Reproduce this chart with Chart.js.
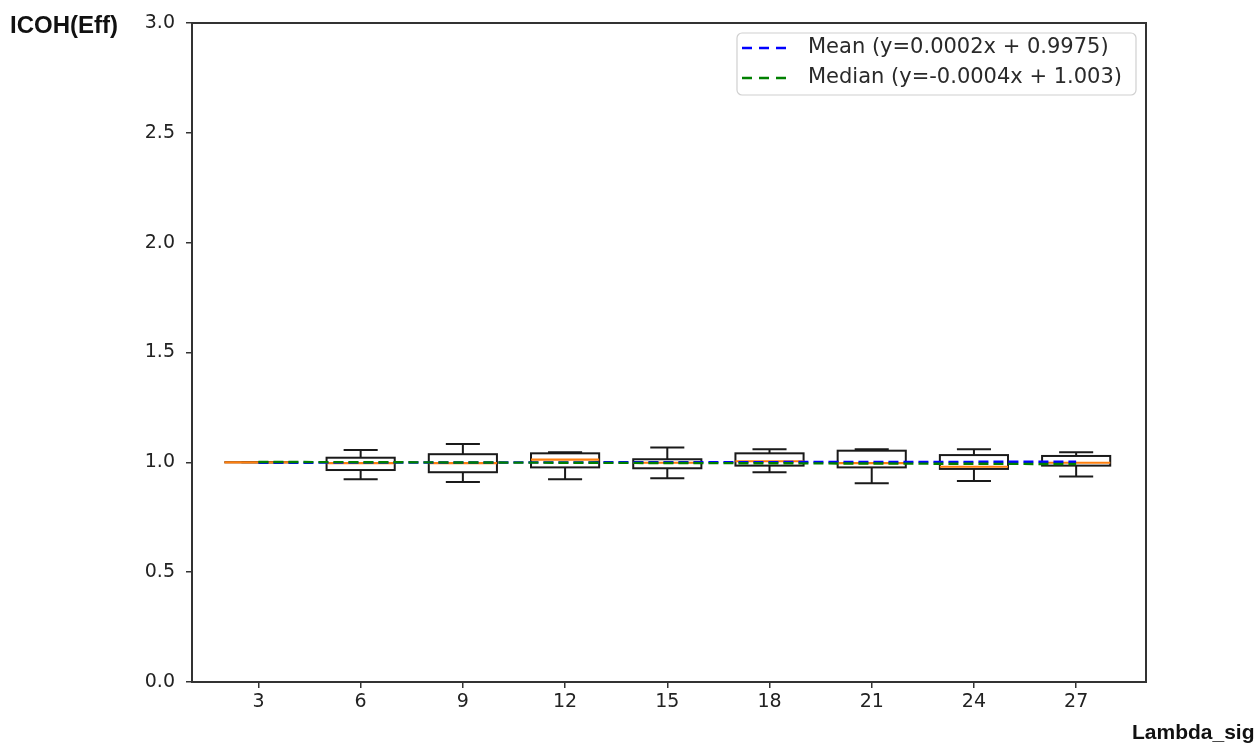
<!DOCTYPE html>
<html>
<head>
<meta charset="utf-8">
<script src="https://cdn.jsdelivr.net/npm/chart.js@4.4.1/dist/chart.umd.min.js"></script>
<style>
    body { margin: 0; background: #fff; }
    #wrap { position: relative; width: 1258px; height: 747px; }
    .axis-title { position: absolute; font-family: "Liberation Sans", Arial, sans-serif; font-weight: bold; color: #111; white-space: nowrap; }
</style>
</head>
<body>
<div id="wrap">
    <canvas id="chart"></canvas>
    <div class="axis-title" style="left:10px; top:11px; font-size:24px;">ICOH(Eff)</div>
    <div class="axis-title" style="left:1132px; top:720px; font-size:21px;">Lambda_sig</div>
</div>
<script>
// ================= Box plot data =================
const lambdas = [3, 6, 9, 12, 15, 18, 21, 24, 27];
const whiskerLow = [1.0, 0.923, 0.910, 0.923, 0.927, 0.955, 0.905, 0.915, 0.935];
const q1 = [1.0, 0.965, 0.955, 0.977, 0.973, 0.985, 0.977, 0.970, 0.985];
const medians = [1.0, 0.996, 0.996, 1.012, 0.998, 1.005, 0.996, 0.980, 0.998];
const q3 = [1.0, 1.021, 1.037, 1.041, 1.014, 1.041, 1.053, 1.033, 1.029];
const whiskerHigh = [1.0, 1.056, 1.083, 1.046, 1.067, 1.059, 1.059, 1.059, 1.046];

// trend lines, end points at lambda 3 and 27
const trendX = [3, 27];
const meanTrend = [0.9981, 1.0029];
const medianTrend = [1.0018, 0.9922];

const yTicks = [0, 0.5, 1.0, 1.5, 2.0, 2.5, 3.0];
const legendLabels = ['Mean (y=0.0002x + 0.9975)', 'Median (y=-0.0004x + 1.003)'];

const BOX_HALF = 1.0;   // in lambda units
const CAP_HALF = 0.5;

// Box plot drawn through the chart scales
const boxPlugin = {
    id: 'boxes',
    beforeDatasetsDraw(chart) {
        const { ctx, scales: { x, y } } = chart;
        ctx.save();
        lambdas.forEach((l, i) => {
            const xc = x.getPixelForValue(l);
            const left = x.getPixelForValue(l - BOX_HALF);
            const right = x.getPixelForValue(l + BOX_HALF);
            const capL = x.getPixelForValue(l - CAP_HALF);
            const capR = x.getPixelForValue(l + CAP_HALF);
            const yLo = y.getPixelForValue(whiskerLow[i]);
            const yQ1 = y.getPixelForValue(q1[i]);
            const yMed = y.getPixelForValue(medians[i]);
            const yQ3 = y.getPixelForValue(q3[i]);
            const yHi = y.getPixelForValue(whiskerHigh[i]);

            ctx.strokeStyle = '#1a1a1a';
            ctx.lineWidth = 2;
            ctx.beginPath();
            // whiskers
            ctx.moveTo(xc, yQ1); ctx.lineTo(xc, yLo);
            ctx.moveTo(xc, yQ3); ctx.lineTo(xc, yHi);
            // caps
            ctx.moveTo(capL, yLo); ctx.lineTo(capR, yLo);
            ctx.moveTo(capL, yHi); ctx.lineTo(capR, yHi);
            ctx.stroke();
            ctx.strokeRect(left, yQ3, right - left, yQ1 - yQ3);

            // median
            ctx.strokeStyle = '#ff7f0e';
            ctx.lineWidth = 2.2;
            ctx.beginPath();
            ctx.moveTo(left, yMed); ctx.lineTo(right, yMed);
            ctx.stroke();
        });
        ctx.restore();
    },
    afterDraw(chart) {
        const { ctx, chartArea: a } = chart;
        ctx.save();
        // spines
        ctx.strokeStyle = '#333';
        ctx.lineWidth = 2;
        ctx.strokeRect(a.left, a.top, a.right - a.left, a.bottom - a.top);

        // legend
        const lx = 737, ly = 33, lw = 399, lh = 62;
        ctx.fillStyle = 'rgba(255,255,255,0.85)';
        ctx.strokeStyle = '#d0d0d0';
        ctx.lineWidth = 1.2;
        ctx.beginPath();
        ctx.roundRect(lx, ly, lw, lh, 5);
        ctx.fill();
        ctx.stroke();
        ctx.font = '21px "DejaVu Sans"';
        ctx.textBaseline = 'middle';
        [0, 1].forEach(i => {
            const ds = chart.data.datasets[i];
            const yy = ly + 15 + i * 30;
            ctx.strokeStyle = ds.borderColor;
            ctx.lineWidth = 2.4;
            ctx.setLineDash([10, 7]);
            ctx.beginPath();
            ctx.moveTo(742, yy); ctx.lineTo(793, yy);
            ctx.stroke();
            ctx.setLineDash([]);
            ctx.fillStyle = '#2a2a2a';
            ctx.fillText(legendLabels[i], 808, yy);
        });
        ctx.restore();
    }
};

new Chart(document.getElementById('chart'), {
    type: 'scatter',
    data: {
        datasets: [
            {
                label: legendLabels[0],
                data: trendX.map((v, i) => ({ x: v, y: meanTrend[i] })),
                showLine: true,
                borderColor: '#0000ff',
                borderWidth: 2.4,
                borderDash: [10, 5],
                pointRadius: 0,
                order: 1
            },
            {
                label: legendLabels[1],
                data: trendX.map((v, i) => ({ x: v, y: medianTrend[i] })),
                showLine: true,
                borderColor: '#008000',
                borderWidth: 2.4,
                borderDash: [10, 5],
                pointRadius: 0,
                order: 0
            }
        ]
    },
    options: {
        responsive: true,
        maintainAspectRatio: false,
        animation: false,
        layout: { padding: { left: 0, top: 23, right: 112, bottom: 0 } },
        plugins: { legend: { display: false }, tooltip: { enabled: false } },
        scales: {
            x: {
                type: 'linear',
                min: 1.05,
                max: 29.05,
                afterBuildTicks: axis => { axis.ticks = lambdas.map(v => ({ value: v })); },
                afterFit: s => { s.height = 65; },
                border: { display: false },
                grid: { drawOnChartArea: false, drawTicks: true, tickLength: 6, color: '#333', lineWidth: 1.5 },
                ticks: { color: '#222', font: { family: 'DejaVu Sans', size: 19 }, padding: 3, maxRotation: 0 }
            },
            y: {
                min: 0,
                max: 3,
                afterBuildTicks: axis => { axis.ticks = yTicks.map(v => ({ value: v })); },
                afterFit: s => { s.width = 192; },
                border: { display: false },
                grid: { drawOnChartArea: false, drawTicks: true, tickLength: 6, color: '#333', lineWidth: 1.5 },
                ticks: { color: '#222', font: { family: 'DejaVu Sans', size: 19 }, padding: 11, callback: v => v.toFixed(1) }
            }
        }
    },
    plugins: [boxPlugin]
});
</script>
</body>
</html>
